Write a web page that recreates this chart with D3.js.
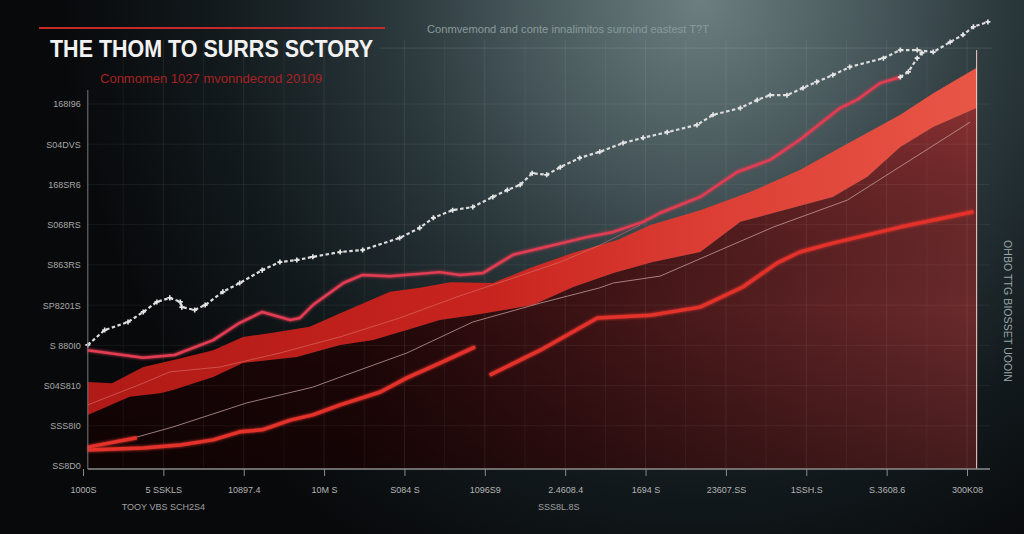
<!DOCTYPE html>
<html>
<head>
<meta charset="utf-8">
<script src="https://cdn.jsdelivr.net/npm/d3@7"></script>
<style>
  html, body { margin: 0; padding: 0; background: #08090b; overflow: hidden; }
  svg { display: block; }
  text { font-family: 'Liberation Sans', Arial, sans-serif; }
</style>
</head>
<body>
<svg id="chart" width="1024" height="534"></svg>
<script>
'use strict';

// подписи осей
const yLabels = ['SS8D0', 'SSS8I0', 'S04S810', 'S 880I0', 'SP8201S', 'S863RS', 'S068RS', '168SR6', 'S04DVS', '168I96'];
const xLabels = ['1000S', '5 SSKLS', '10897.4', '10M S', 'S084 S', '1096S9', '2.4608.4', '1694 S', '23607.SS', '1SSH.S', 'S.3608.6', '300K08'];
const yTicks = [0, 10, 20, 30, 40, 50, 60, 70, 80, 90];
const xTicks = [0, 10, 20, 30, 40, 50, 60, 70, 80, 90, 100, 110];

// белая пунктирная линия с маркерами
const dotted = [[0.6,30.1],[2.7,33.8],[5.6,35.8],[7.5,38.3],[9.2,40.8],[10.8,41.8],[12.1,40.8],[12.3,39.5],[13.9,38.8],[15.2,40.0],
  [17.4,43.3],[19.5,45.5],[22.3,48.7],[24.5,50.7],[26.6,51.2],[28.6,52.0],[32.0,53.2],[34.8,53.7],[39.4,56.7],[41.9,59.2],
  [43.6,61.7],[46.0,63.6],[48.5,64.4],[51.0,66.9],[52.8,68.6],[54.4,69.9],[55.9,72.8],[57.7,72.4],[59.4,74.3],[61.8,76.6],
  [64.3,78.1],[67.2,80.3],[69.7,81.6],[72.7,83.0],[76.4,84.8],[78.4,87.3],[81.8,89.0],[83.9,91.0],[85.5,92.2],[87.6,92.2],
  [89.6,94.0],[91.3,95.5],[93.3,97.2],[95.4,99.2],[99.6,101.4],[101.7,103.4],[103.8,103.4],[105.8,102.9],[107.9,105.4],
  [109.5,107.2],[110.8,109.2],[112.6,110.4]];
const dottedBranch = [[101.7,96.7],[102.7,98.0],[103.8,101.4],[104.4,102.7]];

// розовая линия
const pinkLine = [[0.6,28.8],[7.5,26.9],[11.4,27.6],[16.2,31.3],[19.5,35.6],[22.3,38.3],[25.8,36.3],[27.0,36.8],[28.6,40.0],
  [32.4,45.5],[34.8,47.5],[38.2,47.2],[44.4,48.2],[46.9,47.5],[49.8,48.0],[53.5,52.5],[57.7,54.5],[62.7,56.9],[66.0,58.2],
  [69.7,60.7],[71.8,62.9],[76.8,66.9],[81.4,73.1],[85.5,76.1],[89.2,81.1],[94.2,89.0],[96.3,91.0],[99.2,95.2],[101.7,96.7]];

// красная полоса: верхняя и нижняя граница
const bandUpper = [[0.6,20.9],[3.6,20.6],[7.5,24.6],[11.4,26.4],[16.2,28.8],[19.9,32.1],[23.6,33.1],[28.2,34.6],[32.0,38.0],
  [38.2,43.3],[41.9,44.3],[45.7,45.7],[51.0,45.5],[55.6,49.2],[61.0,53.0],[66.5,56.2],[70.6,59.9],[76.8,63.6],[83.0,68.1],
  [89.2,73.6],[94.2,79.1],[101.7,87.3],[105.8,92.7],[111.2,99.0]];
const bandLower = [[0.6,12.7],[5.8,17.2],[9.6,18.1],[11.2,18.9],[16.2,22.1],[19.9,25.6],[26.6,27.1],[32.0,30.1],[36.1,31.3],
  [40.3,33.8],[44.4,36.3],[48.5,37.5],[56.0,40.0],[61.0,44.5],[66.0,48.0],[70.9,50.7],[76.8,53.2],[81.8,60.7],[93.3,66.9],
  [97.6,71.9],[101.7,79.3],[105.8,84.3],[111.2,89.0]];

// тонкие линии
const faintLine = [[0.6,15.2],[7.5,20.6],[10.8,23.4],[17.0,24.6],[24.5,28.1],[32.0,32.1],[39.4,36.8],[46.9,42.3],[53.5,46.7],
  [59.4,50.7],[64.3,54.9],[69.3,59.9]];
const greyLine = [[6.7,7.2],[11.2,9.7],[20.4,15.7],[28.6,19.6],[32.0,22.1],[40.3,28.1],[48.5,35.8],[56.9,40.5],[64.3,44.3],
  [66.0,45.5],[71.8,47.2],[79.3,53.7],[85.9,59.4],[95.1,66.1],[110.4,85.5]];

// толстые красные линии
const redStub = [[0.6,4.7],[6.7,7.0]];
const redLine1 = [[0.6,4.0],[7.5,4.5],[12.1,5.2],[16.2,6.5],[19.5,8.5],[22.3,9.0],[25.8,11.4],[28.6,12.7],[32.0,15.2],
  [37.0,18.4],[40.3,21.9],[44.4,25.6],[48.8,29.6]];
const redLine2 = [[50.6,22.6],[56.9,28.8],[64.0,36.8],[70.6,37.5],[76.8,39.5],[82.1,44.5],[86.4,50.5],[89.2,53.2],[93.3,55.4],
  [101.7,59.4],[110.8,63.2]];

const svg = d3.select('#chart');
const width = +svg.attr('width');
const height = +svg.attr('height');

const x = d3.scaleLinear().domain([0, 110]).range([83, 967]);
const y = d3.scaleLinear().domain([0, 90]).range([466, 104]);

const plotLeft = x(0.6);
const plotRight = x(111.2);
const plotBottom = 469;

const defs = svg.append('defs');

// фон
const bg = defs.append('radialGradient').attr('id', 'bg')
  .attr('gradientUnits', 'userSpaceOnUse').attr('cx', 700).attr('cy', 0).attr('r', 640);
[[0, '#6c7e80'], [0.22, '#4e5f62'], [0.48, '#2a373b'], [0.75, '#121a1d'], [1, '#08090b']].forEach(s =>
  bg.append('stop').attr('offset', s[0]).attr('stop-color', s[1]));

const bandGrad = defs.append('linearGradient').attr('id', 'bandGrad')
  .attr('gradientUnits', 'userSpaceOnUse').attr('x1', plotLeft).attr('x2', plotRight).attr('y1', 0).attr('y2', 0);
[[0, '#b01a16'], [0.45, '#c8241f'], [0.7, '#dc3e34'], [1, '#e85646']].forEach(s =>
  bandGrad.append('stop').attr('offset', s[0]).attr('stop-color', s[1]));

const lowGrad = defs.append('linearGradient').attr('id', 'lowGrad')
  .attr('gradientUnits', 'userSpaceOnUse').attr('x1', plotLeft).attr('x2', plotRight).attr('y1', 0).attr('y2', 0);
[[0, '#160405'], [0.3, '#1f0607'], [0.55, '#3c1214'], [0.8, '#582022'], [1, '#6a2a2c']].forEach(s =>
  lowGrad.append('stop').attr('offset', s[0]).attr('stop-color', s[1]));

const shade = defs.append('linearGradient').attr('id', 'shade')
  .attr('gradientUnits', 'userSpaceOnUse').attr('x1', 0).attr('x2', 0).attr('y1', 70).attr('y2', plotBottom);
[[0, 'rgba(220,70,70,0.45)'], [0.35, 'rgba(120,30,30,0.1)'], [0.6, 'rgba(0,0,0,0)'], [1, 'rgba(0,0,0,0.35)']].forEach(s =>
  shade.append('stop').attr('offset', s[0]).attr('stop-color', s[1]));

const glow = defs.append('filter').attr('id', 'glow').attr('x', '-20%').attr('y', '-20%').attr('width', '140%').attr('height', '140%');
glow.append('feGaussianBlur').attr('stdDeviation', 1.6).attr('result', 'b');
const merge = glow.append('feMerge');
merge.append('feMergeNode').attr('in', 'b');
merge.append('feMergeNode').attr('in', 'SourceGraphic');

svg.append('rect').attr('width', width).attr('height', height).attr('fill', 'url(#bg)');

const line = d3.line().x(d => x(d[0])).y(d => y(d[1]));

// нижняя тёмно-красная область
const lowArea = d3.area().x(d => x(d[0])).y0(plotBottom).y1(d => y(d[1]));
svg.append('path').datum(bandLower).attr('d', lowArea).attr('fill', 'url(#lowGrad)');
svg.append('path').datum(bandLower).attr('d', lowArea).attr('fill', 'url(#shade)');

// сетка
const grid = svg.append('g').attr('stroke', '#ffffff').attr('stroke-width', 1);
d3.range(5, 111, 5).forEach(v => {
  grid.append('line').attr('x1', x(v)).attr('x2', x(v)).attr('y1', 40).attr('y2', plotBottom)
    .attr('stroke-opacity', v % 10 === 0 ? 0.08 : 0.05);
});
yTicks.slice(1).forEach(v => {
  grid.append('line').attr('x1', plotLeft).attr('x2', 990).attr('y1', y(v)).attr('y2', y(v)).attr('stroke-opacity', 0.06);
});
grid.append('line').attr('x1', 380).attr('x2', 992).attr('y1', y(103.9)).attr('y2', y(103.9)).attr('stroke-opacity', 0.1);

// красная полоса
const bandPath = line(bandUpper) + 'L' + line(bandLower.slice().reverse()).slice(1) + 'Z';
svg.append('path').attr('d', bandPath).attr('fill', 'url(#bandGrad)');

// тонкие линии
svg.append('path').datum(faintLine).attr('d', line).attr('fill', 'none')
  .attr('stroke', '#e07a78').attr('stroke-opacity', 0.55).attr('stroke-width', 1);
svg.append('path').datum(greyLine).attr('d', line).attr('fill', 'none')
  .attr('stroke', '#c9a2a0').attr('stroke-opacity', 0.75).attr('stroke-width', 1);

// толстые красные линии
[redStub, redLine1, redLine2].forEach(d => {
  svg.append('path').datum(d).attr('d', line).attr('fill', 'none')
    .attr('stroke', '#e3302a').attr('stroke-width', 3.5).attr('stroke-linejoin', 'round').attr('filter', 'url(#glow)');
});

// розовая линия
svg.append('path').datum(pinkLine).attr('d', line).attr('fill', 'none')
  .attr('stroke', '#e23c52').attr('stroke-width', 2.5).attr('stroke-linejoin', 'round').attr('filter', 'url(#glow)');

// пунктир
[dotted, dottedBranch].forEach(d => {
  svg.append('path').datum(d).attr('d', line).attr('fill', 'none')
    .attr('stroke', '#dcdcdc').attr('stroke-width', 2.2).attr('stroke-dasharray', '3.5,2.5');
});
const cross = d3.symbol().type(d3.symbolCross).size(14);
svg.append('g').selectAll('path').data(dotted.concat(dottedBranch)).enter().append('path')
  .attr('d', cross).attr('transform', d => `translate(${x(d[0])},${y(d[1])})`)
  .attr('fill', '#e6e6e6');

// правая вертикальная линия
svg.append('line').attr('x1', plotRight).attr('x2', plotRight).attr('y1', y(103.4)).attr('y2', plotBottom)
  .attr('stroke', '#e0403c').attr('stroke-width', 3.5).attr('filter', 'url(#glow)');
svg.append('line').attr('x1', plotRight).attr('x2', plotRight).attr('y1', y(103.4)).attr('y2', plotBottom)
  .attr('stroke', '#ffd0c8').attr('stroke-width', 1);

// оси
svg.append('line').attr('x1', plotLeft).attr('x2', plotLeft).attr('y1', 90).attr('y2', plotBottom)
  .attr('stroke', '#7a7a7a').attr('stroke-width', 1);
svg.append('line').attr('x1', plotLeft).attr('x2', 990).attr('y1', plotBottom).attr('y2', plotBottom)
  .attr('stroke', '#8c8c8c').attr('stroke-width', 1.5);

const xAxis = svg.append('g').attr('transform', `translate(0,${plotBottom})`)
  .call(d3.axisBottom(x).tickValues(xTicks).tickFormat((d, i) => xLabels[i]).tickSize(7).tickPadding(11));
xAxis.select('.domain').remove();
xAxis.selectAll('line').attr('stroke', '#8c8c8c');
xAxis.selectAll('text').attr('fill', '#b4b4b4').style('font-size', '9px');

const yAxis = svg.append('g').attr('transform', `translate(${plotLeft},0)`)
  .call(d3.axisLeft(y).tickValues(yTicks).tickFormat((d, i) => yLabels[i]).tickSize(0).tickPadding(7));
yAxis.select('.domain').remove();
yAxis.selectAll('text').attr('fill', '#a8a8a8').style('font-size', '9px');

// подписи второго ряда
svg.append('text').attr('x', x(10)).attr('y', 510).attr('text-anchor', 'middle')
  .attr('fill', '#a0a0a0').style('font-size', '9px').text('TOOY VBS SCH2S4');
svg.append('text').attr('x', x(59.2)).attr('y', 510).attr('text-anchor', 'middle')
  .attr('fill', '#a0a0a0').style('font-size', '9px').text('SSS8L.8S');

// заголовки
svg.append('line').attr('x1', 39).attr('x2', 385).attr('y1', 28).attr('y2', 28)
  .attr('stroke', '#c42a2a').attr('stroke-width', 2);
svg.append('text').attr('x', 50).attr('y', 57).attr('fill', '#f2f2f2')
  .attr('textLength', 323).attr('lengthAdjust', 'spacingAndGlyphs')
  .style('font-size', '23px').style('font-weight', 'bold').text('THE THOM TO SURRS SCTORY');
svg.append('text').attr('x', 100).attr('y', 83).attr('fill', '#a82222')
  .attr('textLength', 222).attr('lengthAdjust', 'spacingAndGlyphs')
  .style('font-size', '12.5px').text('Conmomen 1027 mvonndecrod 20109');
svg.append('text').attr('x', 427).attr('y', 33).attr('fill', '#8a9b9c')
  .attr('textLength', 282).attr('lengthAdjust', 'spacingAndGlyphs')
  .style('font-size', '11px').text('Conmvemond and conte innalimitos surroind eastest T?T');

// подпись справа
svg.append('text').attr('transform', 'translate(1004,311) rotate(90)').attr('text-anchor', 'middle')
  .attr('fill', '#9aa6a8').attr('textLength', 142).attr('lengthAdjust', 'spacingAndGlyphs')
  .style('font-size', '10px').text('OHBO TTG BIOSSET UOOIN');
</script>
</body>
</html>
